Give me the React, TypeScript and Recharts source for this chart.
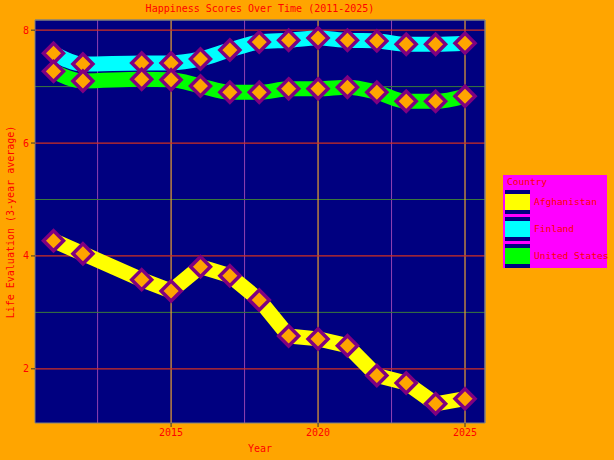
import React from "react";
import { LineChart, Line, XAxis, YAxis, ReferenceLine } from "recharts";

const years = [2011, 2012, 2014, 2015, 2016, 2017, 2018, 2019, 2020, 2021, 2022, 2023, 2024, 2025];
const afghanistan = [4.27, 4.04, 3.58, 3.38, 3.81, 3.65, 3.22, 2.58, 2.53, 2.41, 1.88, 1.75, 1.38, 1.47];
const finland = [7.59, 7.4, 7.42, 7.42, 7.49, 7.65, 7.79, 7.82, 7.86, 7.82, 7.81, 7.75, 7.75, 7.77];
const unitedStates = [7.27, 7.1, 7.13, 7.12, 7.01, 6.9, 6.9, 6.96, 6.96, 6.99, 6.9, 6.74, 6.74, 6.83];

const xTicks = [2015, 2020, 2025];
const xMinor = [2012.5, 2017.5, 2022.5];
const yTicks = [2, 4, 6, 8];
const yMinor = [3, 5, 7];

const countries = [
  { key: "Afghanistan", color: "#ffff00" },
  { key: "Finland", color: "#00ffff" },
  { key: "United States", color: "#00ff00" },
];

const data = years.map((year, i) => ({
  year,
  Afghanistan: afghanistan[i],
  Finland: finland[i],
  "United States": unitedStates[i],
}));

const FONT = "'DejaVu Sans Mono', monospace";

// diamond marker
const Diamond = (props: any) => {
  const { cx, cy } = props;
  if (cx == null || cy == null) return null;
  const r = 10;
  return (
    <polygon
      points={`${cx},${cy - r} ${cx + r},${cy} ${cx},${cy + r} ${cx - r},${cy}`}
      fill="#ffa500"
      stroke="#800080"
      strokeWidth={3.5}
    />
  );
};

const LegendBox = () => (
  <div
    style={{
      position: "absolute",
      left: 503,
      top: 175,
      background: "#ff00ff",
      width: 104,
      height: 93,
      fontFamily: FONT,
      fontSize: 9.5,
      color: "#ff0000",
      boxSizing: "border-box",
      padding: "1px 0 0 2px",
      whiteSpace: "nowrap",
    }}
  >
    <div style={{ marginLeft: 2, marginBottom: 1, height: 11 }}>Country</div>
    {countries.map((c) => (
      <div key={c.key} style={{ display: "flex", alignItems: "center", height: 27 }}>
        <div
          style={{
            width: 25,
            height: 24,
            background: "#000080",
            display: "flex",
            alignItems: "center",
          }}
        >
          <div style={{ width: 25, height: 16, background: c.color }} />
        </div>
        <span style={{ marginLeft: 4 }}>{c.key}</span>
      </div>
    ))}
  </div>
);

export default function App() {
  return (
    <div
      style={{
        position: "fixed",
        left: 0,
        top: 0,
        width: 614,
        height: 460,
        background: "#ffa500",
        fontFamily: FONT,
      }}
    >
      <div
        style={{
          position: "absolute",
          left: 35,
          width: 450,
          top: 3,
          textAlign: "center",
          fontSize: 10,
          color: "#ff0000",
        }}
      >
        Happiness Scores Over Time (2011-2025)
      </div>
      <div
        style={{
          position: "absolute",
          left: 10,
          top: 222,
          transform: "translate(-50%, -50%) rotate(-90deg)",
          whiteSpace: "nowrap",
          fontSize: 10,
          color: "#ff0000",
        }}
      >
        Life Evaluation (3-year average)
      </div>
      <div
        style={{
          position: "absolute",
          left: 35,
          width: 450,
          top: 443,
          textAlign: "center",
          fontSize: 10,
          color: "#ff0000",
        }}
      >
        Year
      </div>
      <LineChart
        width={614}
        height={460}
        data={data}
        margin={{ top: 20, right: 129, bottom: 0, left: 0 }}
      >
        <rect x={35} y={20} width={450} height={403} fill="#000080" />
        <XAxis
          dataKey="year"
          type="number"
          domain={[2010.37, 2025.68]}
          ticks={xTicks}
          allowDataOverflow
          height={37}
          stroke="#808080"
          tickSize={4}
          tick={{ fill: "#ff0000", fontSize: 10, fontFamily: FONT }}
          tickLine={{ stroke: "#333" }}
        />
        <YAxis
          type="number"
          domain={[1.04, 8.18]}
          ticks={yTicks}
          allowDataOverflow
          width={35}
          stroke="#808080"
          tickSize={4}
          tick={{ fill: "#ff0000", fontSize: 10, fontFamily: FONT }}
          tickLine={{ stroke: "#333" }}
        />
        {xMinor.map((x) => (
          <ReferenceLine key={"xm" + x} x={x} stroke="#9040b0" strokeWidth={1} />
        ))}
        {yMinor.map((y) => (
          <ReferenceLine key={"ym" + y} y={y} stroke="#3a7a3a" strokeWidth={1} />
        ))}
        {xTicks.map((x) => (
          <ReferenceLine key={"x" + x} x={x} stroke="#e8a030" strokeWidth={1.2} />
        ))}
        {yTicks.map((y) => (
          <ReferenceLine key={"y" + y} y={y} stroke="#d03020" strokeWidth={1.2} />
        ))}
        <ReferenceLine x={2025.68} stroke="#808080" strokeWidth={1.5} />
        <ReferenceLine y={8.18} stroke="#808080" strokeWidth={1.5} />
        <Line
          dataKey="Afghanistan"
          type="linear"
          stroke="#ffff00"
          strokeWidth={15}
          strokeLinejoin="round"
          dot={<Diamond />}
          activeDot={false}
          isAnimationActive={false}
        />
        <Line
          dataKey="Finland"
          type="monotone"
          stroke="#00ffff"
          strokeWidth={15}
          dot={<Diamond />}
          activeDot={false}
          isAnimationActive={false}
        />
        <Line
          dataKey="United States"
          type="monotone"
          stroke="#00ff00"
          strokeWidth={15}
          dot={<Diamond />}
          activeDot={false}
          isAnimationActive={false}
        />
      </LineChart>
      <LegendBox />
    </div>
  );
}
